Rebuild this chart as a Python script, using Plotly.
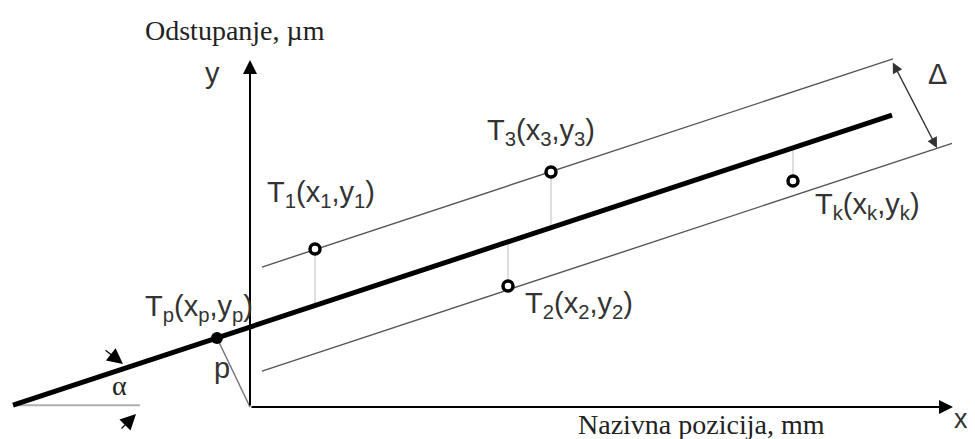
import plotly.graph_objects as go

# ---- data (diagram coordinates: origin at axes intersection) ----
point_ids = ["1", "2", "3", "k"]
point_x = [65, 258, 301, 543]
point_y = [158, 121, 235, 226]
tp_x = [-33]
tp_y = [69]
fit_intercept = 80
fit_slope = 0.33
band_upper = 56
band_lower = -48
fit_x = [-237, 642]
upper_x = [12, 643]
lower_x = [12, 702]
angle_ref_x = [-237, -110]
axis_x_end = 703
axis_y_end = 347

label_pos = {
    "1": (15, 213),
    "2": (273, 102),
    "3": (235, 275),
    "k": (563, 201),
}

def line_y(xs, off=0):
    return [fit_intercept + off + fit_slope * x for x in xs]

fig = go.Figure()

# connectors from points to regression line
for x, y in zip(point_x, point_y):
    fig.add_trace(go.Scatter(x=[x, x], y=[y, line_y([x])[0]], mode="lines",
                             line=dict(color="#c8c8c8", width=1.2), hoverinfo="skip"))

# perpendicular p
fig.add_trace(go.Scatter(x=[0, tp_x[0]], y=[0, tp_y[0]], mode="lines",
                         line=dict(color="#777777", width=1.5), hoverinfo="skip"))

# angle reference horizontal
fig.add_trace(go.Scatter(x=angle_ref_x, y=[fit_intercept + fit_slope * angle_ref_x[0]] * 2,
                         mode="lines", line=dict(color="#b0b0b0", width=2), hoverinfo="skip"))

# band lines
fig.add_trace(go.Scatter(x=upper_x, y=line_y(upper_x, band_upper), mode="lines",
                         line=dict(color="#555555", width=1.4), hoverinfo="skip"))
fig.add_trace(go.Scatter(x=lower_x, y=line_y(lower_x, band_lower), mode="lines",
                         line=dict(color="#555555", width=1.4), hoverinfo="skip"))

# regression line
fig.add_trace(go.Scatter(x=fit_x, y=line_y(fit_x), mode="lines",
                         line=dict(color="black", width=5), hoverinfo="skip"))

# axes
fig.add_annotation(x=axis_x_end, y=0, ax=0, ay=0, xref="x", yref="y", axref="x", ayref="y",
                   showarrow=True, arrowhead=2, arrowsize=1.4, arrowwidth=2, arrowcolor="black", text="")
fig.add_annotation(x=0, y=axis_y_end, ax=0, ay=0, xref="x", yref="y", axref="x", ayref="y",
                   showarrow=True, arrowhead=2, arrowsize=1.4, arrowwidth=2, arrowcolor="black", text="")

# points
fig.add_trace(go.Scatter(x=point_x, y=point_y, mode="markers",
                         marker=dict(size=10, color="white", line=dict(color="black", width=3.5)),
                         hoverinfo="skip"))
fig.add_trace(go.Scatter(x=tp_x, y=tp_y, mode="markers",
                         marker=dict(size=12, color="black"), hoverinfo="skip"))

# angle arrows
fig.add_annotation(x=-127, y=43, ax=-146, ay=58, xref="x", yref="y", axref="x", ayref="y",
                   showarrow=True, arrowhead=2, arrowsize=2.6, arrowwidth=1.2, arrowcolor="black", text="")
fig.add_annotation(x=-114, y=-7, ax=-130, ay=-23, xref="x", yref="y", axref="x", ayref="y",
                   showarrow=True, arrowhead=2, arrowsize=2.6, arrowwidth=1.2, arrowcolor="black", text="")

# Delta arrow
fig.add_annotation(x=687, y=259, ax=642, ay=346, xref="x", yref="y", axref="x", ayref="y",
                   showarrow=True, arrowhead=2, startarrowhead=2, arrowside="end+start",
                   arrowsize=1.6, startarrowsize=1.6, arrowwidth=1.3, arrowcolor="#333333", text="")

sans = dict(family="Liberation Sans, Arial, sans-serif", size=29, color="#333333")
serif = dict(family="Liberation Serif, Times New Roman, serif", size=28, color="#222222")

for pid in point_ids:
    lx, ly = label_pos[pid]
    fig.add_annotation(x=lx, y=ly, xref="x", yref="y", showarrow=False, xanchor="left", yanchor="middle",
                       text=f"T<sub>{pid}</sub>(x<sub>{pid}</sub>,y<sub>{pid}</sub>)", font=sans)
fig.add_annotation(x=-107, y=99, xref="x", yref="y", showarrow=False, xanchor="left", yanchor="middle",
                   text="T<sub>p</sub>(x<sub>p</sub>,y<sub>p</sub>)", font=sans)
fig.add_annotation(x=-28, y=39, xref="x", yref="y", showarrow=False, text="p", font=sans)
fig.add_annotation(x=-131, y=22, xref="x", yref="y", showarrow=False, text="α", font=serif)
fig.add_annotation(x=687, y=333, xref="x", yref="y", showarrow=False, text="Δ", font=sans)
fig.add_annotation(x=-38, y=334, xref="x", yref="y", showarrow=False, text="y", font=sans)
fig.add_annotation(x=711, y=-12, xref="x", yref="y", showarrow=False, text="x",
                   font=dict(family="Liberation Sans, Arial, sans-serif", size=27, color="#333333"))
fig.add_annotation(x=-15, y=377, xref="x", yref="y", showarrow=False, text="Odstupanje, µm", font=serif)
fig.add_annotation(x=451, y=-17, xref="x", yref="y", showarrow=False, text="Nazivna pozicija, mm", font=serif)

# page body has an 8px margin: the figure is sized to fit the remaining window
# and the ranges are offset so the origin lands where the reference has it
fig.update_layout(
    width=967, height=431,
    margin=dict(l=0, r=0, t=0, b=0),
    paper_bgcolor="white", plot_bgcolor="white",
    showlegend=False,
    xaxis=dict(range=[-242, 725], visible=False, fixedrange=True),
    yaxis=dict(range=[-32, 399], visible=False, fixedrange=True),
)

fig.write_html("out.html")
